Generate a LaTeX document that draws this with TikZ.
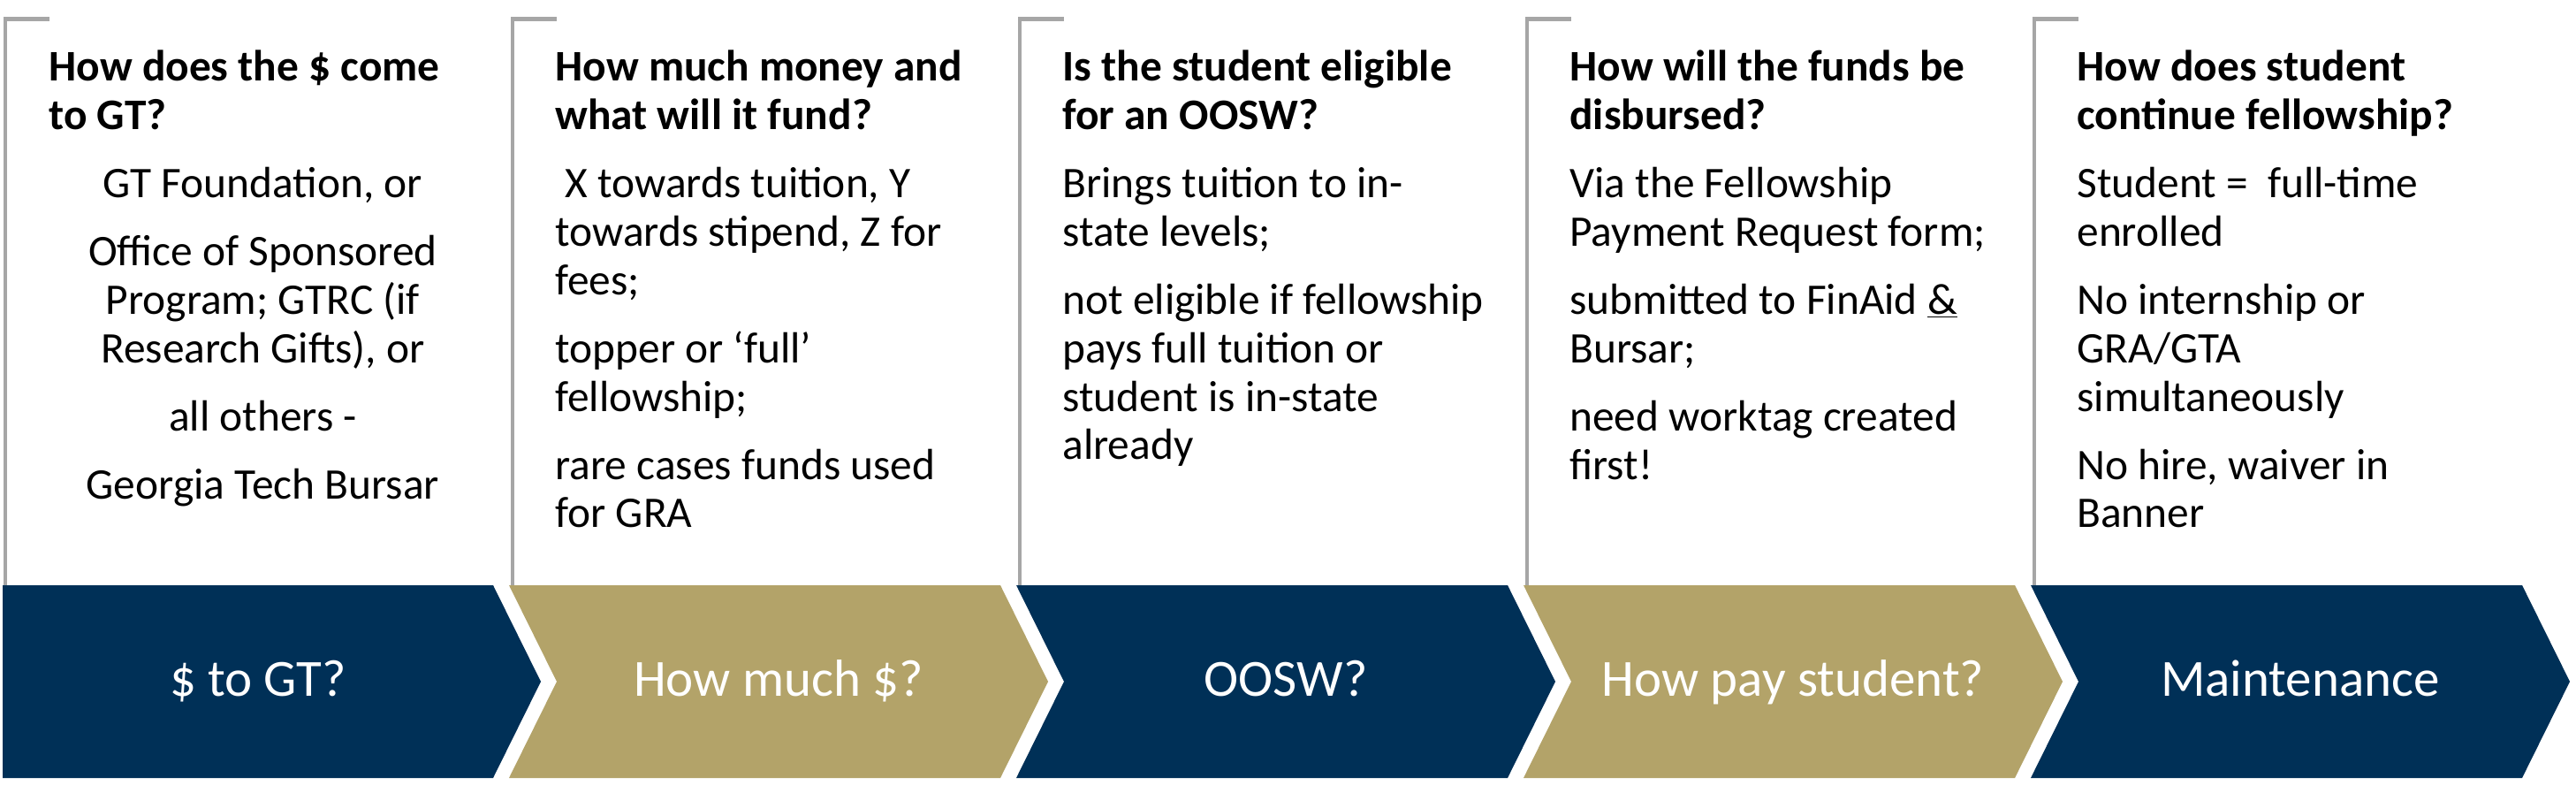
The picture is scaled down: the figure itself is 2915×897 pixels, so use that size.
\documentclass[tikz,border=0pt]{standalone}
\usepackage{fontspec}
\setmainfont{Carlito}
\definecolor{gtnavy}{HTML}{003057}
\definecolor{gtgold}{HTML}{B3A369}
\definecolor{brkgray}{HTML}{A6A6A6}
\newcommand{\colblock}[2]{\vtop{\hsize=#1\relax\fontsize{24.7}{27.4}\selectfont\parskip=11.1pt\parindent=0pt\lineskiplimit=-100pt\lineskip=0pt #2}}
\tikzset{
  bracketline/.style={draw=brkgray, line width=2.35pt},
  navyshape/.style={fill=gtnavy},
  goldshape/.style={fill=gtgold},
  chevtext/.style={text=white, font=\fontsize{29.5}{34}\selectfont, inner sep=0pt, anchor=base},
  coltext/.style={anchor=base west, inner sep=0pt},
}
\begin{document}
\begin{tikzpicture}[x=0.5pt,y=-0.5pt]
\useasboundingbox (0,0) rectangle (2915,897);
\fill[white] (0,0) rectangle (2915,897);
% brackets
\foreach \xb in {6,580,1154,1728,2302}{
  \draw[bracketline] (\xb+50,21.7) -- (\xb,21.7) -- (\xb,662);
}
% chevrons
\fill[navyshape] (3,662) -- (558,662) -- (612,771) -- (558,880) -- (3,880) -- cycle;
\foreach \X/\sty in {576/goldshape,1150/navyshape,1724/goldshape,2298/navyshape}{
  \fill[\sty] (\X,662) -- (\X+556,662) -- (\X+610,771) -- (\X+556,880) -- (\X,880) -- (\X+54,771) -- cycle;
}
% chevron labels
\node[chevtext] (c1) at (292,787) {\$ to GT?};
\node[chevtext] (c2) at (881,787) {How much \$?};
\node[chevtext] (c3) at (1455,787) {OOSW?};
\node[chevtext] (c4) at (2029,787) {How pay student?};
\node[chevtext] (c5) at (2603,787) {Maintenance};
% column texts
\node[coltext] (t1) at (55,92) {\colblock{242pt}{%
  {\raggedright\bfseries How does the \$ come\\to GT?\par}%
  {\centering GT Foundation, or\par
   Office of Sponsored\\Program; GTRC (if\\Research Gifts), or\par
   all others -\par
   Georgia Tech Bursar\par}}};
\node[coltext] (t2) at (628,92) {\colblock{265pt}{\raggedright
  {\bfseries How much money and\\what will it fund?\par}%
  \ X towards tuition, Y\\towards stipend, Z for\\fees;\par
  topper or ‘full’\\fellowship;\par
  rare cases funds used\\for GRA\par}};
\node[coltext] (t3) at (1202,92) {\colblock{265pt}{\raggedright
  {\bfseries Is the student eligible\\for an OOSW?\par}%
  Brings tuition to in-\\state levels;\par
  not eligible if fellowship\\pays full tuition or\\student is in-state\\already\par}};
\node[coltext] (t4) at (1776,92) {\colblock{265pt}{\raggedright
  {\bfseries How will the funds be\\disbursed?\par}%
  Via the Fellowship\\Payment Request form;\par
  submitted to FinAid \underline{\&}\\Bursar;\par
  need worktag created\\first!\par}};
\node[coltext] (t5) at (2350,92) {\colblock{265pt}{\raggedright
  {\bfseries How does student\\continue fellowship?\par}%
  Student = \ full-time\\enrolled\par
  No internship or\\GRA/GTA\\simultaneously\par
  No hire, waiver in\\Banner\par}};
\end{tikzpicture}
\end{document}
